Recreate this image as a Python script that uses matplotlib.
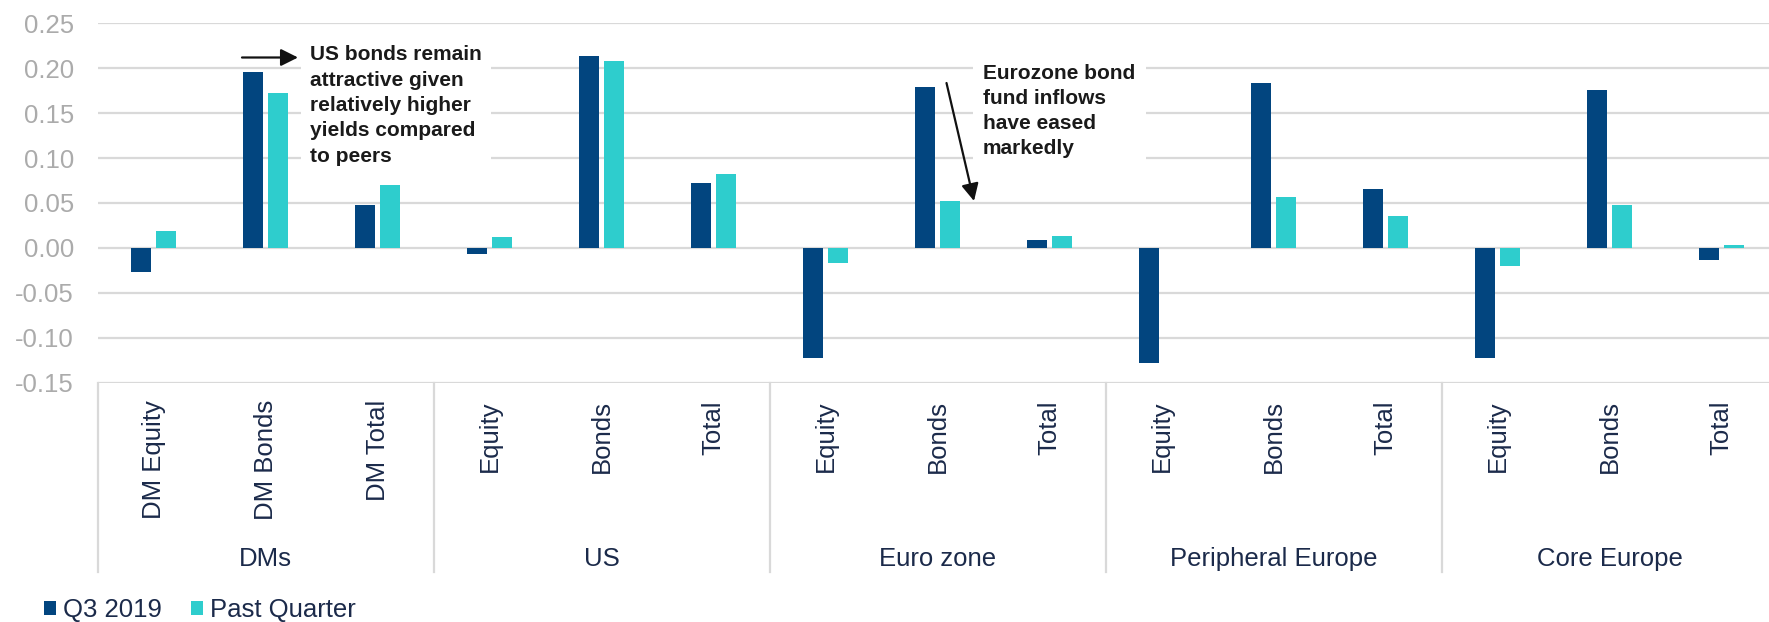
import matplotlib
matplotlib.use("Agg")
import matplotlib.pyplot as plt
import matplotlib.transforms as mtransforms
import numpy as np

plt.rcParams['font.family'] = ['Liberation Sans', 'DejaVu Sans']

# ---- data ----
groups = ["DMs", "US", "Euro zone", "Peripheral Europe", "Core Europe"]
categories = ["DM Equity", "DM Bonds", "DM Total",
              "Equity", "Bonds", "Total",
              "Equity", "Bonds", "Total",
              "Equity", "Bonds", "Total",
              "Equity", "Bonds", "Total"]
series_names = ["Q3 2019", "Past Quarter"]
q3_2019 = [-0.027, 0.196, 0.048,
           -0.007, 0.214, 0.072,
           -0.122, 0.179, 0.009,
           -0.128, 0.184, 0.066,
           -0.122, 0.176, -0.013]
past_quarter = [0.019, 0.172, 0.070,
                0.012, 0.208, 0.082,
                -0.017, 0.052, 0.013,
                0.0, 0.057, 0.035,
                -0.020, 0.048, 0.003]
yticks = [-0.15, -0.10, -0.05, 0.00, 0.05, 0.10, 0.15, 0.20, 0.25]

# ---- styling ----
DARK = "#02457F"
LIGHT = "#2ECDCD"
GRID = "#D9D9D9"
TICK = "#ABABAB"
NAVY = "#1B2A4A"
FS = 18.5

W, H = 1769, 622
fig = plt.figure(figsize=(W / 100, H / 100), dpi=100)

cat_w = 112.0
x_left = 97.5
n = len(categories)
ax_top, ax_bot = 23.3, 382.7
ax = fig.add_axes([x_left / W, 1 - ax_bot / H, n * cat_w / W, (ax_bot - ax_top) / H])

x = np.arange(n)
bw = 0.18
off = 0.112
b1 = ax.bar(x - off, q3_2019, bw, color=DARK, label=series_names[0], zorder=3)
b2 = ax.bar(x + off, past_quarter, bw, color=LIGHT, label=series_names[1], zorder=3)

ax.set_xlim(-0.5, n - 0.5)
ax.set_ylim(yticks[0], yticks[-1])
ax.set_yticks(yticks)
ax.set_yticklabels([f"{v:.2f}" for v in yticks], fontsize=FS, color=TICK)
ax.yaxis.grid(True, color=GRID, lw=1.6, zorder=0)
ax.set_axisbelow(True)
for s in ax.spines.values():
    s.set_visible(False)
ax.tick_params(axis='y', length=0, pad=17)

ax.set_xticks(x)
ax.set_xticklabels(categories, rotation=90, fontsize=FS, color=NAVY)
ax.tick_params(axis='x', length=0, pad=12.5)

# bottom frame: group dividers
trans = mtransforms.blended_transform_factory(ax.transData, ax.transAxes)
ax_h = ax_bot - ax_top
div_bottom = -(571.7 - ax_bot) / ax_h
group_size = 3
for g in range(len(groups) + 1):
    xd = g * group_size - 0.5
    ax.plot([xd, xd], [0, div_bottom], transform=trans, color=GRID, lw=1.6,
            clip_on=False, zorder=1)
grp_y = -(559 - ax_bot) / ax_h
for g, name in enumerate(groups):
    ax.text(g * group_size + 1, grp_y, name, transform=trans, ha='center',
            va='center', fontsize=FS, color=NAVY)

# annotations
def px2data(px, py):
    xd = (px - x_left) / cat_w - 0.5
    yd = yticks[-1] - (py - ax_top) / ax_h * (yticks[-1] - yticks[0])
    return xd, yd

arrow_kw = dict(arrowstyle='-|>', mutation_scale=26, lw=1.6, color='#111111',
                shrinkA=0, shrinkB=0)
ax.annotate("", xy=px2data(298, 57.5), xytext=px2data(242, 57.5),
            arrowprops=arrow_kw, zorder=5)
ax.annotate("", xy=px2data(974, 201), xytext=px2data(946.5, 83),
            arrowprops=arrow_kw, zorder=5)

tx, ty = px2data(310, 45.5)
ax.text(tx, ty, "US bonds remain\nattractive given\nrelatively higher\nyields compared\nto peers",
        fontsize=15, fontweight='bold', color='#1A1A1A', ha='left', va='top',
        bbox=dict(boxstyle='square,pad=0.45', fc='white', ec='none'),
        zorder=4, linespacing=1.42)
tx, ty = px2data(983, 63.5)
ax.text(tx, ty, "Eurozone bond\nfund inflows\nhave eased\nmarkedly",
        fontsize=15, fontweight='bold', color='#1A1A1A', ha='left', va='top',
        bbox=dict(boxstyle='square,pad=0.5', fc='white', ec='none'), zorder=4,
        linespacing=1.42)

# legend
leg = fig.legend(handles=[b1, b2], labels=series_names, loc='center left',
                 bbox_to_anchor=(44 / W, 1 - 610 / H), ncol=2, frameon=False,
                 fontsize=FS, handlelength=0.45, handleheight=0.45,
                 handletextpad=0.28, columnspacing=1.15, borderpad=0,
                 borderaxespad=0)
for t in leg.get_texts():
    t.set_color(NAVY)

fig.savefig("out.png", dpi=100)
